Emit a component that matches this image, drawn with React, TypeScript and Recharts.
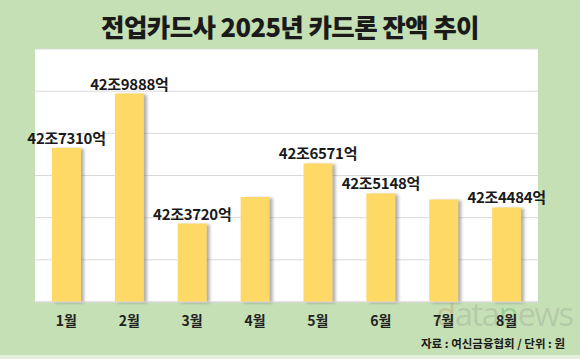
import { BarChart, Bar, XAxis, YAxis, CartesianGrid, LabelList } from "recharts";

const months = ["1월", "2월", "3월", "4월", "5월", "6월", "7월", "8월"];
// 잔액 (억원)
const balances = [427310, 429888, 423720, 424980, 426571, 425148, 424860, 424484];
const valueLabels = ["42조7310억", "42조9888억", "42조3720억", "", "42조6571억", "42조5148억", "", "42조4484억"];
const yTicks = [420000, 422000, 424000, 426000, 428000, 430000, 432000];

const data = months.map((m, i) => ({ month: m, value: balances[i], label: valueLabels[i] }));

const FONT = "'Noto Sans CJK KR', 'Noto Sans', sans-serif";

// bar with a soft grey shadow on the right, like the excel original
const ShadowBar = (props: any) => {
  const { x, y, width, height } = props;
  if (height <= 0) return null;
  return (
    <g>
      <rect x={x + 3} y={y + 1} width={width} height={height} fill="#6f6f6f" opacity={0.55} filter="url(#barShadow)" />
      <rect x={x} y={y} width={width} height={height} fill="#FFD966" />
    </g>
  );
};

export default function App() {
  return (
    <div
      style={{
        position: "absolute",
        left: 0,
        top: 0,
        width: 580,
        height: 359,
        background: "#C5E0B4",
        fontFamily: FONT,
        overflow: "hidden",
      }}
    >
      <svg width={0} height={0} style={{ position: "absolute" }}>
        <defs>
          <filter id="barShadow" x="-20%" y="-5%" width="140%" height="110%">
            <feGaussianBlur stdDeviation="1.5" />
          </filter>
        </defs>
      </svg>

      <div
        style={{
          position: "absolute",
          left: 0,
          width: 580,
          top: 8,
          textAlign: "center",
          fontSize: 25.5,
          fontWeight: 900,
          color: "#1a1a1a",
          letterSpacing: -0.6,
          lineHeight: "36px",
        }}
      >
        전업카드사 2025년 카드론 잔액 추이
      </div>

      <div
        style={{
          position: "absolute",
          left: 436,
          top: 294,
          fontSize: 33,
          fontFamily: "'Open Sans', sans-serif",
          opacity: 0.25,
          letterSpacing: -1.5,
          lineHeight: "40px",
          whiteSpace: "nowrap",
        }}
      >
        <span style={{ color: "#c0722c" }}>d</span>
        <span style={{ color: "#8a8a8a" }}>ata</span>
        <span style={{ color: "#1f9b4a" }}>n</span>
        <span style={{ color: "#8a8a8a" }}>ews</span>
      </div>

      <BarChart width={580} height={359} data={data} margin={{ top: 49, right: 42, left: 35, bottom: 27 }} barSize={29}>
        <CartesianGrid vertical={false} stroke="#D9D9D9" fill="#ffffff" />
        <XAxis
          dataKey="month"
          height={30}
          axisLine={{ stroke: "#D9D9D9" }}
          tickLine={false}
          tickMargin={8}
          tick={{ fontSize: 14, fontWeight: 700, fill: "#222", fontFamily: FONT }}
        />
        <YAxis hide domain={[420000, 432000]} ticks={yTicks} />
        <Bar dataKey="value" isAnimationActive={false} shape={ShadowBar}>
          <LabelList
            dataKey="label"
            position="top"
            offset={4}
            style={{ fontSize: 15, fontWeight: 700, fill: "#1a1a1a", fontFamily: FONT, letterSpacing: -0.3 }}
          />
        </Bar>
      </BarChart>

      <div
        style={{
          position: "absolute",
          right: 15,
          top: 334,
          fontSize: 11.5,
          fontWeight: 700,
          color: "#1a1a1a",
          lineHeight: "18px",
          whiteSpace: "nowrap",
        }}
      >
        자료 : 여신금융협회 / 단위 : 원
      </div>

      <div style={{ position: "absolute", left: 0, top: 355, width: 580, height: 4, background: "#e3efdb" }} />
    </div>
  );
}
